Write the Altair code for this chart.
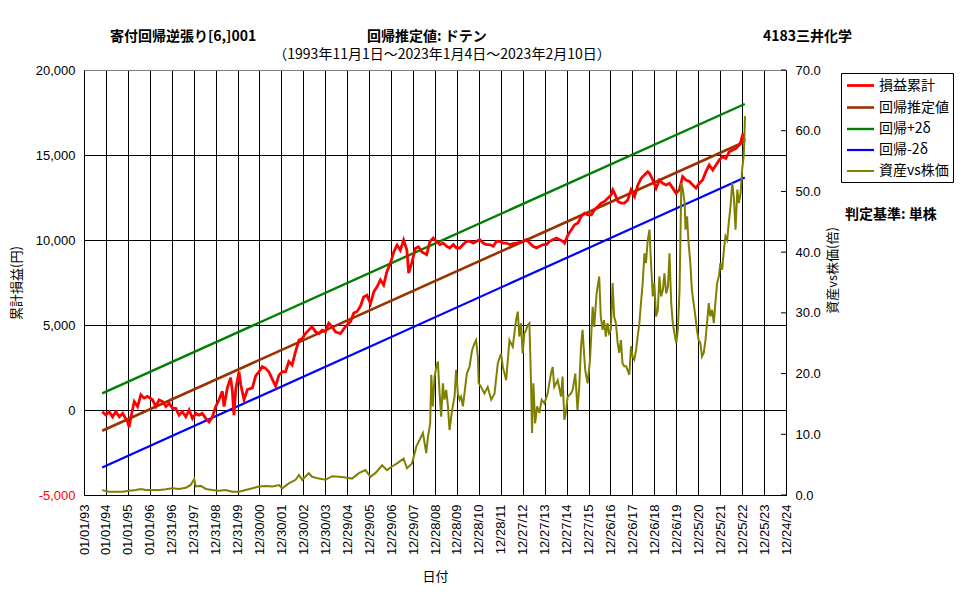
import altair as alt
import pandas as pd

# ---------------- data ----------------
x_labels = ["01/01/93", "01/01/94", "01/01/95", "01/01/96", "12/31/96", "12/31/97", "12/31/98",
            "12/31/99", "12/30/00", "12/30/01", "12/30/02", "12/30/03", "12/29/04", "12/29/05",
            "12/29/06", "12/29/07", "12/28/08", "12/28/09", "12/28/10", "12/28/11", "12/27/12",
            "12/27/13", "12/27/14", "12/27/15", "12/26/16", "12/26/17", "12/26/18", "12/26/19",
            "12/25/20", "12/25/21", "12/25/22", "12/25/23", "12/24/24"]
left_ticks = [-5000, 0, 5000, 10000, 15000, 20000]
right_ticks = [0, 10, 20, 30, 40, 50, 60, 70]

series_names = ["損益累計", "回帰推定値", "回帰+2δ", "回帰-2δ", "資産vs株価"]
series_colors = ["#FF0000", "#993300", "#008000", "#0000FF", "#808000"]
series_widths = [2.8, 2, 2, 2, 1]

# 損益累計 (decimal year, yen)
red_t = [1993.83, 1994.00, 1994.15, 1994.30, 1994.45, 1994.61, 1994.76, 1994.98, 1995.06, 1995.14,
         1995.29, 1995.44, 1995.59, 1995.74, 1995.89, 1996.12, 1996.27, 1996.42, 1996.58, 1996.73,
         1996.88, 1997.03, 1997.18, 1997.33, 1997.48, 1997.64, 1997.79, 1997.94, 1998.09, 1998.24,
         1998.39, 1998.55, 1998.70, 1998.85, 1999.00, 1999.15, 1999.30, 1999.38, 1999.53, 1999.68,
         1999.76, 1999.83, 1999.91, 2000.06, 2000.14, 2000.29, 2000.44, 2000.67, 2000.82, 2000.97,
         2001.12, 2001.27, 2001.42, 2001.58, 2001.73, 2001.88, 2002.03, 2002.18, 2002.33, 2002.48,
         2002.64, 2002.79, 2002.94, 2003.09, 2003.24, 2003.39, 2003.55, 2003.70, 2003.85, 2004.00,
         2004.15, 2004.30, 2004.45, 2004.68, 2004.91, 2005.14, 2005.29, 2005.44, 2005.59, 2005.74,
         2005.89, 2006.05, 2006.20, 2006.35, 2006.50, 2006.65, 2006.80, 2006.95, 2007.11, 2007.26,
         2007.41, 2007.56, 2007.71, 2007.79, 2007.94, 2008.09, 2008.24, 2008.39,
         2008.61, 2008.76, 2008.91, 2009.06, 2009.21, 2009.36, 2009.52, 2009.67, 2009.82, 2009.97,
         2010.12, 2010.27, 2010.42, 2010.58, 2010.73, 2010.88, 2011.03, 2011.18, 2011.33, 2011.48,
         2011.64, 2011.79, 2011.94, 2012.09, 2012.24, 2012.39, 2012.55, 2012.70, 2012.85, 2013.00,
         2013.15, 2013.30, 2013.45, 2013.61, 2013.76, 2013.91, 2014.06, 2014.21, 2014.36, 2014.52,
         2014.67, 2014.82, 2014.89, 2015.05, 2015.20, 2015.35, 2015.50, 2015.65, 2015.80, 2015.95,
         2016.11, 2016.26, 2016.41, 2016.56, 2016.71, 2016.86, 2017.02, 2017.09, 2017.17, 2017.32,
         2017.47, 2017.62, 2017.77, 2017.92, 2018.08, 2018.23, 2018.38, 2018.53, 2018.68, 2018.76,
         2018.91, 2019.06, 2019.21, 2019.36, 2019.52, 2019.67, 2019.82, 2019.97, 2020.12, 2020.27,
         2020.42, 2020.58, 2020.73, 2020.88, 2021.03, 2021.18, 2021.33, 2021.48, 2021.64, 2021.79,
         2021.94, 2022.09, 2022.24, 2022.39, 2022.55, 2022.70, 2022.85, 2022.92, 2023.02, 2023.08]
red_v = [-100, -300, -100, -400, -100, -400, -200, -700, -1000, -400,
         500, 200, 900, 700, 800, 600, 200, 600, 500, 200,
         400, 100, 100, -300, -100, -400, 0, -500, -200, -300,
         -200, -500, -700, -400, 200, 600, 1100, 200, 1300, 1900,
         1100, -300, 1200, 2250, 1500, 600, 1200, 1300, 2000, 2250,
         2550, 2450, 2250, 1800, 1400, 2050, 2250, 2250, 2850, 2650,
         3450, 4100, 4200, 4500, 4700, 4900, 4600, 4500, 4700, 4600,
         5100, 4900, 4600, 4500, 4900, 5200, 5700, 5800, 6100, 6650,
         6750, 6250, 6950, 7250, 7650, 7350, 8150, 8600, 9300, 9700,
         9400, 10000, 9400, 8050, 8700, 9500, 9600, 9300,
         9140, 9920, 10120, 9920, 9730, 9820, 9630, 9530, 9730, 9530,
         9530, 9730, 9920, 9920, 9820, 9920, 10020, 9820, 9730, 9730,
         9630, 9920, 9920, 9820, 9820, 9730, 9790, 9820, 9860, 9920,
         10020, 9820, 9630, 9530, 9630, 9730, 9730, 9920, 10020, 10120,
         10020, 9920, 9820, 10310, 10600, 10900, 11000, 11390, 11580, 11480,
         11480, 11780, 11970, 12170, 12270, 12460, 12660, 12950, 12750, 12270,
         12170, 12170, 12360, 12950, 12560, 13240, 13630, 13830, 14020, 13920,
         13530, 13050, 13530, 13340, 13240, 13340, 13050, 12750, 12950, 13730,
         13530, 13440, 13240, 13050, 13340, 13530, 14020, 14410, 14120, 14410,
         14710, 14900, 14800, 15190, 15290, 15390, 15590, 15780, 16270, 15800]

# regression lines: start / end
reg_t = [1993.83, 2023.10]
reg_mid = [-1218, 15780]
reg_up = [980, 18000]
reg_dn = [-3380, 13680]

# 資産vs株価 (decimal year, ratio)
olive_t = [1993.83, 1994.15, 1994.45, 1994.76, 1995.06, 1995.36, 1995.59, 1995.82, 1996.12, 1996.42,
           1996.73, 1997.03, 1997.33, 1997.64, 1997.86, 1998.02, 1998.09, 1998.32, 1998.55, 1998.85,
           1999.15, 1999.45, 1999.76, 2000.06, 2000.36, 2000.67, 2000.97, 2001.27, 2001.58, 2001.88,
           2002.03, 2002.33, 2002.64, 2002.79, 2002.94, 2003.24, 2003.39, 2003.70, 2004.00, 2004.30,
           2004.61, 2004.91, 2005.21, 2005.52, 2005.82, 2006.05, 2006.27, 2006.58, 2006.80, 2007.03,
           2007.26, 2007.56, 2007.71, 2007.94,
           2008.14, 2008.29, 2008.44, 2008.59, 2008.67, 2008.77, 2008.82, 2008.89, 2008.97, 2009.05,
           2009.12, 2009.20, 2009.27, 2009.35, 2009.42, 2009.50, 2009.58, 2009.65, 2009.77, 2009.88,
           2009.95, 2010.03, 2010.11, 2010.18, 2010.26, 2010.33, 2010.44, 2010.56, 2010.68, 2010.79,
           2010.86, 2010.94, 2010.98, 2011.09, 2011.24, 2011.39, 2011.55, 2011.70, 2011.85, 2012.00,
           2012.08, 2012.23, 2012.38, 2012.53, 2012.68, 2012.76, 2012.83, 2012.91, 2012.98, 2013.06,
           2013.14, 2013.21, 2013.29, 2013.36, 2013.41, 2013.47, 2013.55, 2013.64, 2013.74, 2013.85,
           2013.97, 2014.12, 2014.27, 2014.35, 2014.42, 2014.58, 2014.73, 2014.80, 2014.88, 2014.95,
           2015.03, 2015.18, 2015.26, 2015.38, 2015.48, 2015.56, 2015.64, 2015.71, 2015.83, 2015.94,
           2016.05, 2016.17, 2016.24, 2016.35, 2016.47,
           2016.54, 2016.62, 2016.69, 2016.77, 2016.85, 2016.92, 2017.00, 2017.08, 2017.15, 2017.23,
           2017.31, 2017.38, 2017.46, 2017.53, 2017.61, 2017.69, 2017.76, 2017.84, 2017.92, 2017.99,
           2018.07, 2018.15, 2018.22, 2018.30, 2018.37, 2018.45, 2018.53, 2018.60, 2018.68, 2018.76,
           2018.83, 2018.91, 2018.98, 2019.06, 2019.14, 2019.21, 2019.29, 2019.37, 2019.44, 2019.52,
           2019.60, 2019.67, 2019.75, 2019.82, 2019.90, 2019.98, 2020.05, 2020.13, 2020.21, 2020.28,
           2020.36, 2020.40, 2020.47, 2020.54, 2020.62, 2020.69, 2020.77, 2020.85, 2020.92, 2021.00,
           2021.08, 2021.15, 2021.23, 2021.31, 2021.38, 2021.46, 2021.53, 2021.61, 2021.69, 2021.76,
           2021.84, 2021.92, 2021.99, 2022.07, 2022.15, 2022.22, 2022.30, 2022.37, 2022.45, 2022.53,
           2022.60, 2022.68, 2022.76, 2022.83, 2022.91, 2022.98, 2023.05, 2023.08, 2023.11]
olive_v = [0.8, 0.55, 0.55, 0.55, 0.71, 0.82, 1.0, 0.82, 0.82, 0.82,
           0.93, 1.1, 1.0, 1.2, 1.65, 2.6, 1.4, 1.5, 1.0, 0.82,
           0.71, 0.82, 0.55, 0.55, 0.82, 1.1, 1.4, 1.5, 1.4, 1.65,
           1.1, 1.9, 2.5, 3.3, 2.5, 3.6, 3.0, 2.7, 2.5, 3.1,
           3.0, 2.9, 2.7, 3.6, 4.1, 3.0, 3.6, 4.9, 4.1, 4.7,
           5.2, 6.0, 4.4, 5.2,
           8.0, 9.1, 10.2, 6.9, 9.6, 11.8, 19.8, 14.6, 19.5, 21.1,
           22.0, 16.7, 12.9, 18.4, 15.7, 17.3, 14.6, 10.7, 14.0, 16.2,
           20.6, 16.7, 15.7, 16.2, 14.6, 16.7, 20.0, 21.1, 23.9, 25.0,
           25.5, 22.8, 18.4, 17.8, 16.7, 17.8, 15.7, 16.7, 21.7, 23.3,
           21.1, 18.9, 25.5, 24.4, 28.8, 30.2, 26.1, 28.3, 23.3, 26.6,
           27.2, 28.0, 28.3, 18.9, 10.2, 18.4, 11.8, 14.6, 13.5, 15.7,
           15.1, 16.7, 20.0, 21.1, 17.8, 18.9, 16.2, 19.5, 12.4, 13.5,
           16.2, 16.7, 17.3, 20.0, 14.0, 17.8, 24.4, 27.2, 20.6, 18.4,
           22.2, 31.0, 27.7, 33.2, 36.0,
           29.4, 27.2, 28.8, 26.1, 28.3, 26.6, 27.2, 34.9, 29.4, 28.3,
           25.0, 23.4, 25.5, 21.7, 21.2, 21.2, 20.6, 19.8, 24.5, 22.8,
           22.3, 23.9, 26.1, 28.3, 31.6, 34.9, 39.8, 38.2, 42.0, 43.7,
           38.2, 32.7, 34.9, 29.4, 30.5, 36.0, 32.7, 33.8, 36.5, 33.2,
           34.3, 39.8, 31.6, 28.3, 26.6, 25.0, 27.2, 33.8, 51.4, 50.3,
           48.1, 43.7, 45.9, 41.5, 38.2, 33.8, 31.6, 29.4, 27.2, 25.5,
           25.0, 22.8, 23.4, 25.5, 28.3, 31.6, 29.4, 30.5, 28.3, 31.6,
           34.9, 36.0, 38.2, 37.1, 40.4, 42.6, 42.0, 44.8, 47.5, 51.4,
           49.2, 43.7, 50.3, 48.1, 49.7, 53.6, 55.8, 58.5, 62.4]

# ---------------- frames ----------------
red_df = pd.DataFrame({"t": red_t, "v": red_v, "series": series_names[0]})
reg_df = pd.concat([
    pd.DataFrame({"t": reg_t, "v": reg_mid, "series": series_names[1]}),
    pd.DataFrame({"t": reg_t, "v": reg_up, "series": series_names[2]}),
    pd.DataFrame({"t": reg_t, "v": reg_dn, "series": series_names[3]}),
], ignore_index=True)
olive_df = pd.DataFrame({"t": olive_t, "w": olive_v, "series": series_names[4]})
rtick_df = pd.DataFrame({"w": right_ticks})

W, H = 702, 425
JP = "Noto Sans CJK JP"
NUM = "Liberation Sans"

tick_vals = [1993 + k * 365 / 365.25 for k in range(len(x_labels))]
label_arr = "[" + ",".join("'" + s + "'" for s in x_labels) + "]"

x_enc = alt.X(
    "t:Q",
    scale=alt.Scale(domain=[tick_vals[0], tick_vals[-1]], nice=False, zero=False),
    axis=alt.Axis(
        values=tick_vals,
        labelExpr=label_arr + "[round((datum.value - 1993) * 365.25 / 365)]",
        labelAngle=270, labelFont=NUM, labelFontSize=13, labelColor="black",
        labelPadding=9, labelOverlap=False, labelFlush=False, labelBound=False,
        grid=True, gridColor="black", gridWidth=1, gridOpacity=1,
        tickSize=0, domainColor="black", domainWidth=1,
        title="日付", titleFont=JP, titleFontSize=13, titleFontWeight="normal",
        titleColor="black", titlePadding=16,
    ),
)

y_left = alt.Y(
    "v:Q",
    scale=alt.Scale(domain=[-5000, 20000], nice=False, zero=False),
    axis=alt.Axis(
        values=left_ticks, orient="left",
        labelExpr="(datum.value < 0 ? '-' : '') + format(abs(datum.value), ',')",
        labelFont=NUM, labelFontSize=13, labelPadding=9,
        labelColor={"condition": {"test": "datum.value < 0", "value": "#FF0000"}, "value": "black"},
        grid=True, gridWidth=1, gridOpacity=1,
        gridColor={"condition": {"test": "datum.value >= 20000", "value": "#808080"}, "value": "black"},
        tickSize=0, domainColor="black", domainWidth=1,
        title="累計損益(円)", titleFont=JP, titleFontSize=13, titleFontWeight="normal",
        titleColor="black", titlePadding=12,
    ),
)

y_right = alt.Y(
    "w:Q",
    scale=alt.Scale(domain=[0, 70], nice=False, zero=False),
    axis=alt.Axis(
        values=right_ticks, orient="right", format=".1f",
        labelFont=NUM, labelFontSize=13, labelPadding=9, labelColor="black",
        grid=False, tickSize=0, domainColor="black", domainWidth=1,
        title="資産vs株価(倍)", titleFont=JP, titleFontSize=13, titleFontWeight="normal",
        titleColor="black", titlePadding=19, titleAngle=270, titleY=200,
    ),
)

legend_props = dict(
    orient="none", legendX=757, legendY=3, title=None,
    symbolType="M-2,0H2", symbolSize=182, symbolOffset=7,
    labelFont=JP, labelFontSize=14, labelColor="black", labelOffset=10,
    strokeColor="black", fillColor="white", padding=4, rowPadding=6,
    labelLimit=200,
)

color_enc = alt.Color(
    "series:N",
    scale=alt.Scale(domain=series_names, range=series_colors),
    legend=alt.Legend(**legend_props),
)
sw_enc = alt.StrokeWidth(
    "series:N",
    scale=alt.Scale(domain=series_names, range=series_widths),
    legend=alt.Legend(**legend_props),
)

reg_layer = alt.Chart(reg_df).mark_line().encode(
    x=x_enc, y=y_left, color=color_enc, strokeWidth=sw_enc, detail="series:N")
red_layer = alt.Chart(red_df).mark_line().encode(
    x=x_enc, y=y_left, color=color_enc, strokeWidth=sw_enc)
left = alt.layer(reg_layer, red_layer)

olive_layer = alt.Chart(olive_df).mark_line().encode(
    x=x_enc, y=y_right, color=color_enc, strokeWidth=sw_enc)
rticks = alt.Chart(rtick_df).mark_rule(color="black", strokeWidth=1).encode(
    y=y_right, x=alt.value(W - 5), x2=alt.value(W))
right = alt.layer(olive_layer, rticks)

one = pd.DataFrame({"a": [0]})


def label(text, x, y, align="left", bold=True, size=14):
    return alt.Chart(one).mark_text(
        align=align, baseline="middle", font=JP, fontSize=size,
        fontWeight="bold" if bold else "normal", color="black",
    ).encode(x=alt.value(x), y=alt.value(y), text=alt.value(text))


texts = [
    label("寄付回帰逆張り[6,]001", 26, -33),
    label("回帰推定値: ドテン", 283, -33),
    label("4183三井化学", 679, -33),
    label("（1993年11月1日～2023年1月4日～2023年2月10日）", 358, -15, align="center", bold=False, size=14),
    label("判定基準: 単株", 761, 145),
]

chart = alt.layer(left, right, *texts).resolve_scale(y="independent").properties(
    width=W, height=H,
    autosize=alt.AutoSizeParams(type="none"),
    padding={"left": 84, "top": 70, "right": 977 - 84 - W, "bottom": 600 - 70 - H},
    background="white",
).configure_view(stroke=None)

chart.save("out.html", embed_options={"renderer": "svg", "actions": False})
